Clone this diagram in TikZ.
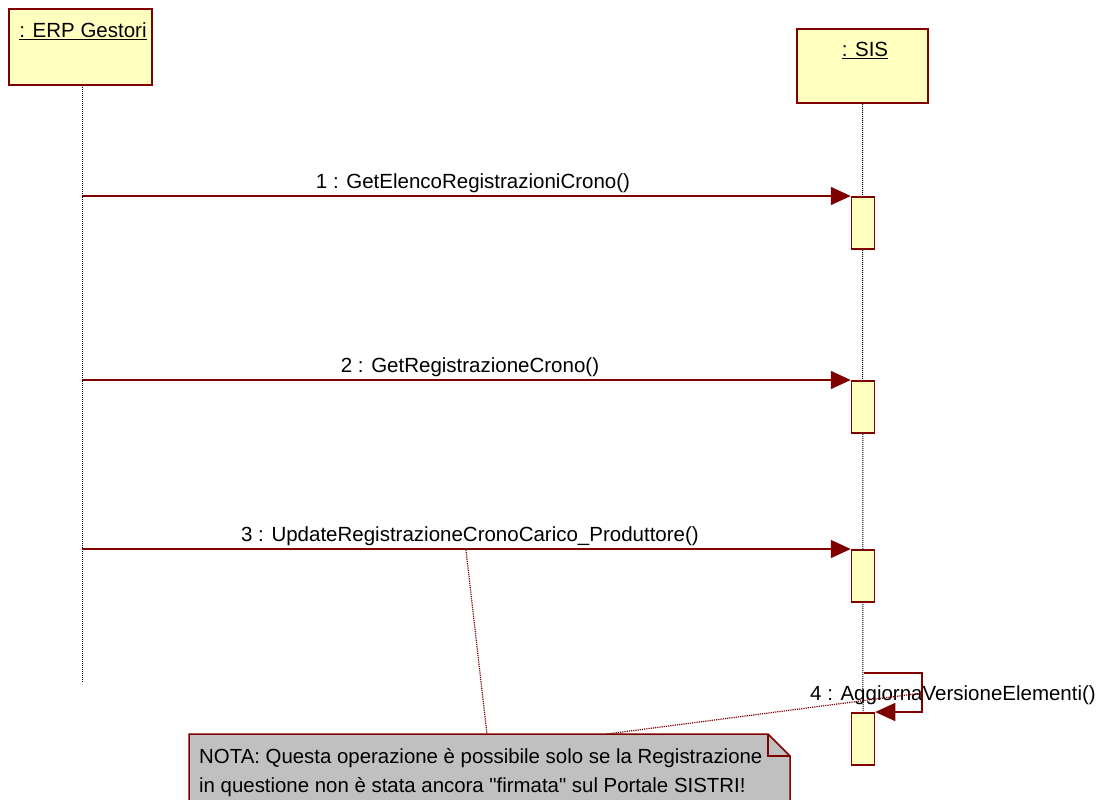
\documentclass[tikz,border=0pt]{standalone}
\usepackage{fontspec}
\newfontfamily\umlfont{Liberation Sans}
\usetikzlibrary{arrows.meta,positioning,calc}
\definecolor{umlred}{RGB}{128,0,0}
\definecolor{umlfill}{RGB}{255,255,192}
\definecolor{notegray}{RGB}{192,192,192}

\begin{document}
\begin{tikzpicture}[x=1pt, y=-1pt, font=\umlfont\fontsize{20.5}{24}\selectfont,
  obj/.style={draw=umlred, fill=umlfill, line width=1.5pt, inner sep=0pt},
  act/.style={draw=umlred, fill=umlfill, line width=1.5pt, inner sep=0pt,
    minimum width=23pt, minimum height=52pt, anchor=north},
  life/.style={densely dotted, line width=1pt},
  msg/.style={draw=umlred, line width=1.5pt, -{Triangle[length=20pt,width=18pt]}},
  lbl/.style={inner sep=0pt, anchor=base},
  notelink/.style={draw=umlred, densely dotted, line width=1.2pt}]
  \useasboundingbox (0,0) rectangle (1098,800);
  % participants
  \node[obj, minimum width=143pt, minimum height=76pt] (erp) at (80.5,47) {};
  \node[lbl] (erpname) at (83,38) {\underline{: ERP Gestori}};
  \node[obj, minimum width=131pt, minimum height=74pt] (sis) at (862.5,66) {};
  \node[lbl] (sisname) at (865,57) {\underline{: SIS}};
  % lifelines
  \coordinate (erptop) at (82,85);
  \coordinate (erpend) at (82,683);
  \coordinate (sisend) at (863,712);
  \draw[life] (erptop) -- (erpend);
  \draw[life] (sis.south) -- (sisend);
  % activations
  \node[act] (a1) at (863,196) {};
  \node[act] (a2) at (863,380) {};
  \node[act] (a3) at (863,549) {};
  \node[act] (a4) at (863,712) {};
  % messages
  \coordinate (m1) at (82,196);
  \coordinate (m2) at (82,380);
  \coordinate (m3) at (82,549);
  \draw[msg] (m1) -- (a1.north west);
  \node[lbl] (l1) at (473,188) {1 : GetElencoRegistrazioniCrono()};
  \draw[msg] (m2) -- (a2.north west);
  \node[lbl] (l2) at (470,372) {2 : GetRegistrazioneCrono()};
  \draw[msg] (m3) -- (a3.north west);
  \node[lbl] (l3) at (470,541) {3 : UpdateRegistrazioneCronoCarico\_Produttore()};
  % self message
  \coordinate (s4) at (864,673);
  \draw[msg] (s4) -- ++(58,0) |- (a4.north east);
  \node[lbl] (l4) at (953,700) {4 : AggiornaVersioneElementi()};
  % note
  \fill[notegray] (189,734) -- (768,734) -- (790,756) -- (790,812) -- (189,812) -- cycle;
  \draw[umlred, line width=1.5pt] (189,812) -- (189,734) -- (768,734) -- (790,756) -- (790,812);
  \draw[umlred, line width=1.5pt] (768,734) -- (768,756) -- (790,756);
  \node[anchor=base west, align=left, inner sep=0pt,
    font=\umlfont\fontsize{20.4}{29}\selectfont] (note) at (199,792)
    {NOTA: Questa operazione è possibile solo se la Registrazione\\
     in questione non è stata ancora "firmata" sul Portale SISTRI!};
  \coordinate (c3) at (466,550);
  \coordinate (n1) at (487,734);
  \coordinate (n2) at (607,734);
  \coordinate (c4) at (922,693);
  \draw[notelink] (c3) -- (n1);
  \draw[notelink] (n2) -- (c4);
\end{tikzpicture}
\end{document}
